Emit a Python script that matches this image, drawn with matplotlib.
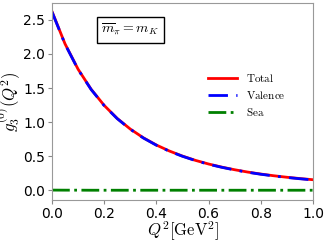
import matplotlib
matplotlib.use('Agg')
import matplotlib.pyplot as plt

# values
q2 = [0.0, 0.05, 0.1, 0.15, 0.2, 0.25, 0.3, 0.35, 0.4, 0.45, 0.5,
      0.55, 0.6, 0.65, 0.7, 0.75, 0.8, 0.85, 0.9, 0.95, 1.0]
total = [2.62, 2.146, 1.775, 1.481, 1.245, 1.054, 0.899, 0.771, 0.665, 0.577, 0.503,
         0.440, 0.387, 0.342, 0.303, 0.269, 0.240, 0.215, 0.193, 0.174, 0.157]
valence = [2.615, 2.142, 1.771, 1.478, 1.242, 1.051, 0.896, 0.768, 0.662, 0.574, 0.500,
           0.437, 0.384, 0.339, 0.300, 0.266, 0.237, 0.212, 0.190, 0.171, 0.154]
sea = [0.005, 0.004, 0.004, 0.003, 0.003, 0.003, 0.003, 0.003, 0.003, 0.003, 0.003,
       0.003, 0.003, 0.003, 0.003, 0.003, 0.003, 0.003, 0.003, 0.003, 0.003]

plt.rcParams['mathtext.fontset'] = 'cm'

fig = plt.figure(figsize=(3.27, 2.40), dpi=100)
ax = fig.add_axes([52 / 327, 40 / 240, 261 / 327, 197 / 240])

ax.plot(q2, total, color='red', lw=2, label=r'$\mathrm{Total}$')
ax.plot(q2, valence, color='blue', lw=2, linestyle=(0, (7, 3, 1, 3)),
        label=r'$\mathrm{Valence}$')
ax.plot(q2, sea, color='green', lw=2, linestyle='-.', label=r'$\mathrm{Sea}$')

ax.set_xlim(0, 1.0)
ax.set_ylim(-0.14, 2.745)
ax.set_xticks([0.0, 0.2, 0.4, 0.6, 0.8, 1.0])
ax.set_yticks([0.0, 0.5, 1.0, 1.5, 2.0, 2.5])
ax.tick_params(labelsize=10, length=3, color='#888888', pad=2)
for s in ax.spines.values():
    s.set_color('#999999')

ax.set_xlabel(r'$Q^2[\mathrm{GeV}^2]$', fontsize=12, labelpad=-1)
ax.set_ylabel(r'$g_3^{(0)}(Q^2)$', fontsize=12, labelpad=0)

ax.text(0.30, 0.865, r'$\overline{m}_\pi = m_K$', transform=ax.transAxes,
        fontsize=10, ha='center', va='center',
        bbox=dict(boxstyle='square,pad=0.35', fc='white', ec='black', lw=1))

ax.legend(loc='center left', bbox_to_anchor=(0.56, 0.535), frameon=False,
          fontsize=8, handlelength=2.6, labelspacing=0.45)

fig.savefig('out.png', dpi=100)
